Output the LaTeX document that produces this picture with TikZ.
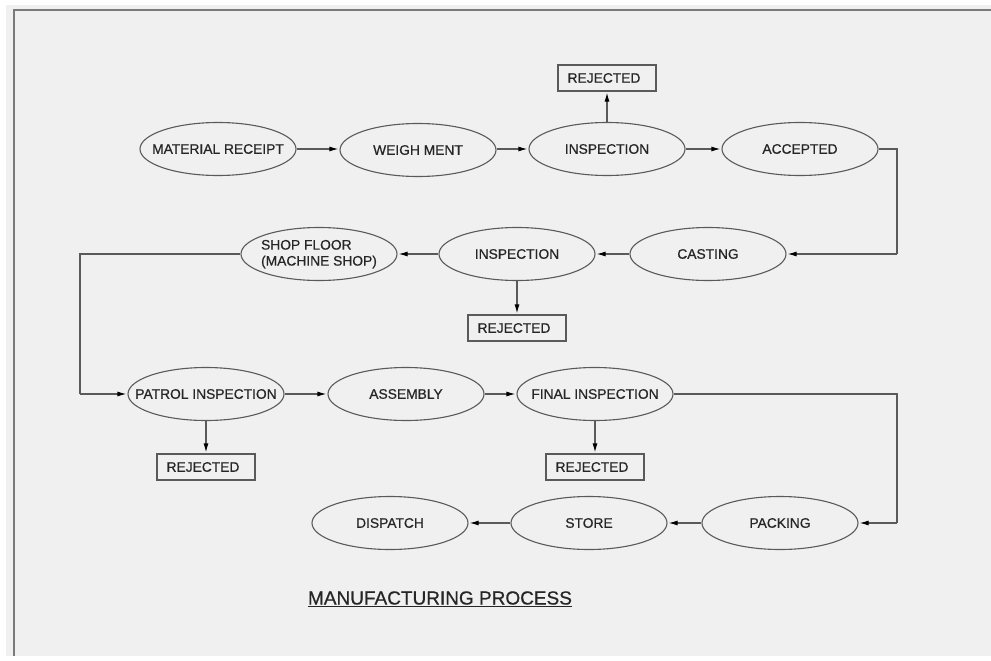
\documentclass[tikz,border=0pt]{standalone}
\usepackage{fontspec}
\setmainfont{Liberation Sans}
\newfontfamily\nodefont[FakeBold=0.6]{Liberation Sans}
\usetikzlibrary{shapes.geometric,arrows.meta}
\definecolor{bgc}{HTML}{F0F0F0}
\definecolor{linec}{HTML}{5A5A5A}
\definecolor{framec}{HTML}{7A7A7A}
\definecolor{txtc}{HTML}{262626}
\tikzset{
  proc/.style={ellipse, draw=linec, line width=1.1pt, minimum width=156pt, minimum height=53pt, inner sep=0pt, text=txtc, font=\nodefont\fontsize{13.8}{18}\selectfont},
  rej/.style={draw=linec, line width=1.1pt, rectangle, minimum width=98pt, minimum height=26pt, inner sep=0pt, text=txtc, font=\nodefont\fontsize{13.8}{16}\selectfont},
  flow/.style={draw=linec, line width=1.1pt, -{Latex[length=9pt,width=5pt,color=black]}, shorten >=1pt},
  plain/.style={draw=linec, line width=1.1pt}
}
\newcommand{\zw}[1]{\makebox[0pt]{#1}}
\begin{document}
\begin{tikzpicture}[x=1pt,y=-1pt]
\useasboundingbox (0,0) rectangle (991,661);
\fill[white] (0,0) rectangle (991,661);
\fill[bgc] (6,5) rectangle (991,656);
\draw[framec, line width=1.4pt] (14,656) -- (14,10) -- (991,10);

% row 1
\node[proc] (mr) at (218,149) {\zw{MATERIAL RECEIPT}};
\node[proc] (wm) at (418,150) {\zw{WEIGH MENT}};
\node[proc] (in1) at (607,149) {\zw{INSPECTION}};
\node[proc] (acc) at (800,149) {\zw{ACCEPTED}};
\node[rej] (rj1) at (607,78) {\zw{\hspace*{-6pt}REJECTED}};

% row 2
\node[proc] (cast) at (708,254) {\zw{CASTING}};
\node[proc] (in2) at (517,254) {\zw{INSPECTION}};
\node[proc] (shop) at (319,254) {\zw{\begin{tabular}{@{}l@{}}SHOP FLOOR\\[-2pt](MACHINE SHOP)\end{tabular}}};
\node[rej] (rj2) at (517,328) {\zw{\hspace*{-6pt}REJECTED}};

% row 3
\node[proc] (pat) at (206,394) {\zw{PATROL INSPECTION}};
\node[proc] (asm) at (406,394) {\zw{ASSEMBLY}};
\node[proc] (fin) at (595,394) {\zw{FINAL INSPECTION}};
\node[rej] (rj3) at (206,467) {\zw{\hspace*{-6pt}REJECTED}};
\node[rej] (rj4) at (595,467) {\zw{\hspace*{-6pt}REJECTED}};

% row 4
\node[proc] (pack) at (780,523) {\zw{PACKING}};
\node[proc] (store) at (589,523) {\zw{STORE}};
\node[proc] (disp) at (390,523) {\zw{DISPATCH}};

% title
\node[text=txtc, font=\nodefont\fontsize{19}{22}\selectfont] (title) at (440,599) {\underline{MANUFACTURING PROCESS}};

% corners
\coordinate (c1) at (897,254);
\coordinate (c2) at (80,394);
\coordinate (c3) at (897,523);

% connectors
\draw[flow] (mr.east) -- (wm.west |- mr.east);
\draw[flow] (wm.east |- in1.west) -- (in1.west);
\draw[flow] (in1.east) -- (acc.west);
\draw[flow] (in1.north) -- (rj1.south);
\draw[plain] (acc.east) -| (c1);
\draw[flow] (c1) -- (cast.east);
\draw[flow] (cast.west) -- (in2.east);
\draw[flow] (in2.west) -- (shop.east);
\draw[flow] (in2.south) -- (rj2.north);
\draw[plain] (shop.west) -| (c2);
\draw[flow] (c2) -- (pat.west);
\draw[flow] (pat.east) -- (asm.west);
\draw[flow] (asm.east) -- (fin.west);
\draw[flow] (pat.south) -- (rj3.north);
\draw[flow] (fin.south) -- (rj4.north);
\draw[plain] (fin.east) -| (c3);
\draw[flow] (c3) -- (pack.east);
\draw[flow] (pack.west) -- (store.east);
\draw[flow] (store.west) -- (disp.east);
\end{tikzpicture}
\end{document}
